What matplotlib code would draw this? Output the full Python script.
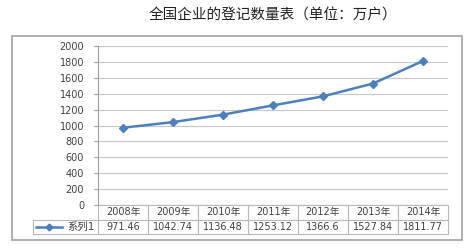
import matplotlib
matplotlib.use("Agg")
import matplotlib.pyplot as plt
from matplotlib.patches import Rectangle

plt.rcParams['font.family'] = ['DejaVu Sans', 'Noto Sans CJK SC']

years = ['2008年', '2009年', '2010年', '2011年', '2012年', '2013年', '2014年']
values = [971.46, 1042.74, 1136.48, 1253.12, 1366.6, 1527.84, 1811.77]
series_name = '系列1'
title = '全国企业的登记数量表（单位：万户）'

line_color = '#4f7fba'
grid_color = '#c8c8c8'
text_color = '#404040'

fig = plt.figure(figsize=(4.74, 2.48), dpi=100)

# outer chart frame
fig.patches.append(Rectangle((12/474, 1-240/248), 450/474, 204/248,
                             transform=fig.transFigure, fill=False,
                             edgecolor='#a8a8a8', linewidth=1.3))
fig.text(273/474, 1-16/248, title, ha='center', va='center',
         fontsize=10.5, color='#202020', family=['Noto Sans CJK SC'],
         weight='medium')

ax = fig.add_axes([98/474, 1-205/248, 350/474, 159/248])
x = range(len(years))
ax.plot(x, values, color=line_color, linewidth=1.8, marker='D',
        markersize=4.5, markeredgecolor=line_color, clip_on=False, zorder=5)

ax.set_xlim(-0.5, len(years)-0.5)
ax.set_ylim(0, 2000)
ax.set_yticks(range(0, 2001, 200))
ax.set_xticks([])
ax.yaxis.grid(True, color=grid_color, linewidth=0.9)
ax.set_axisbelow(True)
for s in ['top', 'right', 'bottom']:
    ax.spines[s].set_visible(False)
ax.spines['left'].set_color('#a0a0a0')
ax.tick_params(axis='y', length=3, color='#a0a0a0', labelsize=7,
               labelcolor=text_color, pad=7)

# data table under the chart
x0 = (33-98)/350
tbl = ax.table(cellText=[[''] + years, [''] + [str(v) for v in values]],
               colWidths=[65] + [50]*len(years),
               cellLoc='center',
               bbox=[x0, -29/159, (448-33)/350, 29/159])
tbl.auto_set_font_size(False)
tbl.set_fontsize(7)
for (r, c), cell in tbl.get_celld().items():
    cell.set_edgecolor('#b8b8b8')
    cell.set_linewidth(0.8)
    cell.get_text().set_color(text_color)
    if r == 0 and c == 0:
        cell.visible_edges = ''

# legend key inside the first data cell
ky = -(226.5-205)/159
ax.plot([(36-98)/350, (62-98)/350], [ky, ky], color=line_color,
        linewidth=1.8, transform=ax.transAxes, clip_on=False)
ax.plot([(49-98)/350], [ky], color=line_color, marker='D', markersize=3.5,
        transform=ax.transAxes, clip_on=False)
ax.text((95-98)/350, ky, series_name, transform=ax.transAxes,
        ha='right', va='center', fontsize=7.5, color=text_color)

fig.savefig('out.png', dpi=100)
